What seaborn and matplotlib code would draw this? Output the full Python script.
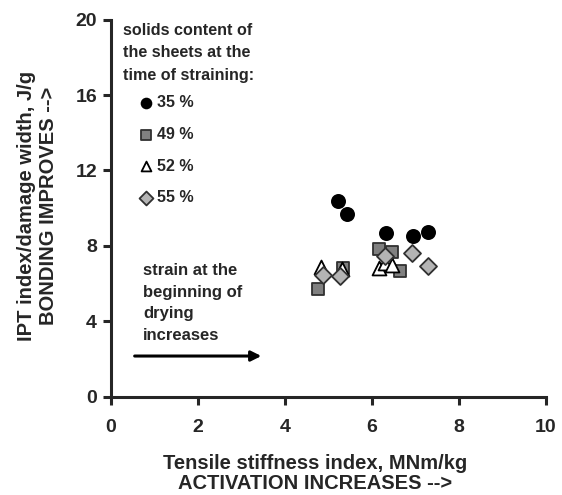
import matplotlib
matplotlib.use("Agg")
import matplotlib.pyplot as plt
import seaborn as sns

# data
x_35 = [5.23, 5.43, 6.33, 6.94, 7.29]
y_35 = [10.38, 9.70, 8.69, 8.55, 8.74]
x_49 = [4.75, 5.34, 6.15, 6.47, 6.65]
y_49 = [5.74, 6.85, 7.84, 7.66, 6.66]
x_52 = [4.82, 5.30, 6.17, 6.30, 6.45]
y_52 = [6.87, 6.77, 6.82, 7.10, 6.99]
x_55 = [4.88, 5.26, 6.29, 6.93, 7.28]
y_55 = [6.48, 6.41, 7.47, 7.65, 6.96]
labels = ["35 %", "49 %", "52 %", "55 %"]
x_ticks = [0, 2, 4, 6, 8, 10]
y_ticks = [0, 4, 8, 12, 16, 20]

sns.set_style("ticks")
plt.rcParams["font.family"] = ["Liberation Sans", "DejaVu Sans"]
plt.rcParams["font.weight"] = "bold"

fig = plt.figure(figsize=(5.62, 4.95), dpi=100)
ax = fig.add_axes([0.1975, 0.198, 0.7740, 0.7626])

# (x, y, label, marker, face, edge, size)
series = [
    (x_35, y_35, labels[0], "o", "black", "black", 90),
    (x_49, y_49, labels[1], "s", "#808080", "#303030", 85),
    (x_52, y_52, labels[2], "^", "white", "black", 100),
    (x_55, y_55, labels[3], "D", "#b4b4b4", "#303030", 75),
]
for xs, ys, lab, mk, fc, ec, s in series:
    sns.scatterplot(x=xs, y=ys, ax=ax, marker=mk, color=fc, edgecolor=ec,
                    linewidth=1.3, s=s, label=lab, zorder=3)

ax.set_xlim(0, 10)
ax.set_ylim(0, 20)
ax.set_xticks(x_ticks)
ax.set_yticks(y_ticks)
for sp in ["top", "right"]:
    ax.spines[sp].set_visible(False)
for sp in ["left", "bottom"]:
    ax.spines[sp].set_linewidth(2.2)
ax.tick_params(axis="both", width=2.2, length=6, labelsize=14)
ax.tick_params(axis="x", pad=10)
ax.tick_params(axis="y", pad=4)

ax.set_xlabel("Tensile stiffness index, MNm/kg\nACTIVATION INCREASES -->",
              fontsize=14.5, fontweight="bold", linespacing=1.1)
ax.xaxis.set_label_coords(0.47, -0.15)
ax.set_ylabel("IPT index/damage width, J/g\nBONDING IMPROVES -->",
              fontsize=14.5, fontweight="bold", linespacing=1.2)
ax.yaxis.set_label_coords(-0.122, 0.505)

# legend block
ax.text(0.027, 0.99, "solids content of\nthe sheets at the\ntime of straining:",
        transform=ax.transAxes, ha="left", va="top", fontsize=11.6,
        fontweight="bold", linespacing=1.6)
leg = ax.legend(loc="upper left", bbox_to_anchor=(0.062, 0.80), frameon=False,
                borderpad=0, borderaxespad=0, handlelength=1.0,
                handletextpad=0.2, labelspacing=1.05,
                prop={"size": 11.5, "weight": "bold"})
for h in leg.legend_handles:
    h.set_sizes([50])

# annotation and arrow
ax.text(0.074, 0.355, "strain at the\nbeginning of\ndrying\nincreases",
        transform=ax.transAxes, ha="left", va="top", fontsize=12,
        fontweight="bold", linespacing=1.55)
ax.annotate("", xy=(3.52, 2.17), xytext=(0.48, 2.17),
            arrowprops=dict(arrowstyle="-|>", lw=2.2, color="black",
                            mutation_scale=15))

fig.savefig("out.png", dpi=100)
